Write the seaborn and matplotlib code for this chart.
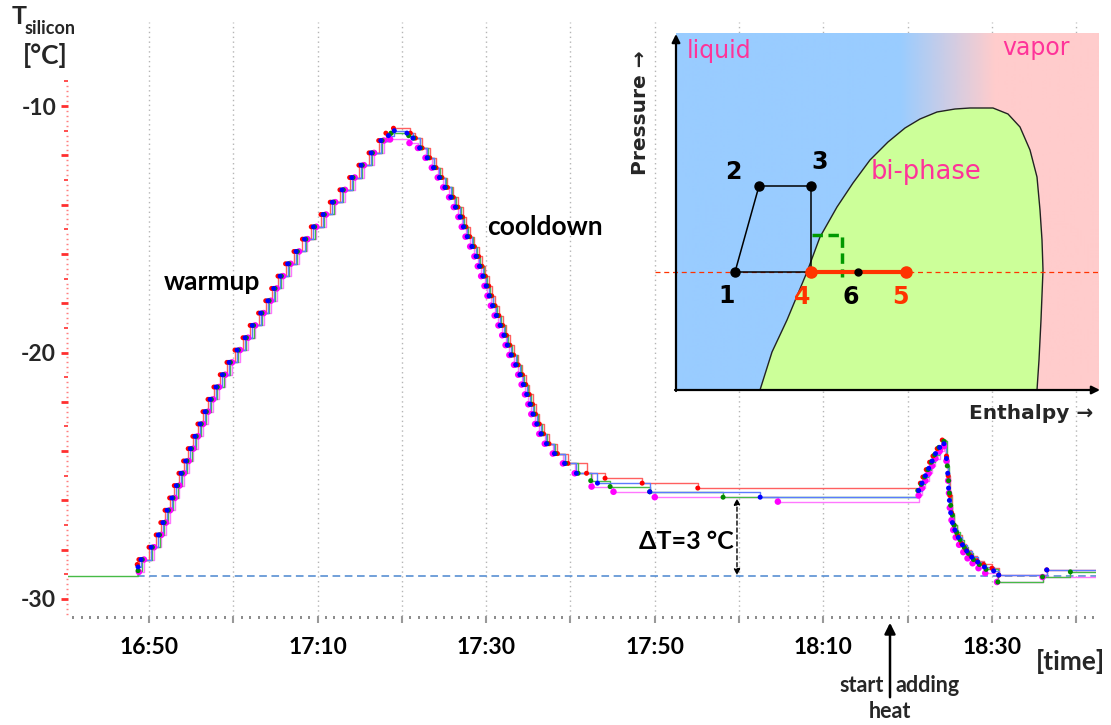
import numpy as np
import pandas as pd
import matplotlib
matplotlib.use("Agg")
import matplotlib.pyplot as plt
import seaborn as sns
from matplotlib.ticker import MultipleLocator, FixedLocator, FuncFormatter

# ---------------- data (time = minutes after 16:00, temperature in degC) ----------------
BASELINE_T = -29.07
PLATEAU_ARROW_TIME = 119.75
PLATEAU_T = -25.87

GREEN_START_TIME = [40.0]
GREEN_START = [-29.07]

# warm-up: logger writes a point each time the temperature has moved by one step
WARM_LEVELS = [-28.4, -27.9, -27.4, -26.9, -26.4, -25.9, -25.4, -24.9, -24.4, -23.9, -23.4, -22.9,
               -22.4, -21.9, -21.4, -20.9, -20.4, -19.9, -19.4, -18.9, -18.4, -17.9, -17.4, -16.9,
               -16.4, -15.9, -15.4, -14.9, -14.4, -13.9, -13.4, -12.9, -12.4, -11.9, -11.4]

RED_WARM_TIME = [48.6, 48.8, 50.0, 50.85, 51.4, 51.9, 52.45, 53.0, 53.55, 54.1, 54.65, 55.2, 55.8,
                 56.4, 57.0, 57.7, 58.45, 59.25, 60.2, 61.15, 62.0, 63.0, 63.85, 64.55, 65.3, 66.2,
                 67.2, 68.2, 69.25, 70.4, 71.5, 72.65, 73.8, 74.9, 76.1, 77.25, 78.1, 79.0]
RED_WARM = [-28.6] + WARM_LEVELS + [-11.1, -10.9]

BLUE_WARM_TIME = [48.7, 49.05, 50.25, 51.1, 51.65, 52.15, 52.7, 53.25, 53.8, 54.35, 54.9, 55.45,
                  56.05, 56.65, 57.25, 57.95, 58.7, 59.5, 60.45, 61.4, 62.25, 63.25, 64.1, 64.8,
                  65.55, 66.45, 67.45, 68.45, 69.5, 70.65, 71.75, 72.9, 74.05, 75.15, 76.35, 77.5,
                  78.4, 79.1]
BLUE_WARM = [-28.7] + WARM_LEVELS + [-11.2, -11.0]

GREEN_WARM_TIME = [48.7, 49.2, 50.4, 51.25, 51.8, 52.3, 52.85, 53.4, 53.95, 54.5, 55.05, 55.6,
                   56.2, 56.8, 57.4, 58.1, 58.85, 59.65, 60.6, 61.55, 62.4, 63.4, 64.25, 64.95,
                   65.7, 66.6, 67.6, 68.6, 69.65, 70.8, 71.9, 73.05, 74.2, 75.3, 76.5, 77.65, 78.7]
GREEN_WARM = [-28.85] + WARM_LEVELS + [-11.1]

MAGENTA_WARM_TIME = [48.8, 49.4, 50.6, 51.45, 52.0, 52.5, 53.05, 53.6, 54.15, 54.7, 55.25, 55.8,
                     56.4, 57.0, 57.6, 58.3, 59.05, 59.85, 60.8, 61.75, 62.6, 63.6, 64.45, 65.15,
                     65.9, 66.8, 67.8, 68.8, 69.85, 71.0, 72.1, 73.25, 74.4, 75.5, 76.7, 77.85, 78.6]
MAGENTA_WARM = [-28.9] + WARM_LEVELS + [-11.35]

COOL_LEVELS = [-11.3, -11.7, -12.1, -12.5, -12.9, -13.3, -13.7, -14.1, -14.5, -14.9, -15.3, -15.7,
               -16.1, -16.5, -16.9, -17.3, -17.7, -18.1, -18.5, -18.9, -19.3, -19.7, -20.1, -20.5,
               -20.9, -21.3, -21.7, -22.1, -22.5, -22.9, -23.3, -23.7, -24.1, -24.5, -24.9]

RED_COOL_TIME = [81.0, 81.6, 82.4, 83.3, 84.05, 84.75, 85.4, 86.1, 86.65, 87.2, 87.6, 88.05, 88.6,
                 89.1, 89.5, 89.9, 90.3, 90.65, 91.05, 91.5, 91.95, 92.4, 92.8, 93.25, 93.8, 94.3,
                 94.7, 95.1, 95.5, 95.85, 96.3, 96.8, 97.45, 98.45, 99.7, 101.9, 104.1, 108.5, 115.1]
RED_COOL = [-11.1] + COOL_LEVELS + [-25.1, -25.3, -25.5]

BLUE_COOL_TIME = [80.6, 81.3, 82.1, 83.0, 83.75, 84.45, 85.1, 85.8, 86.35, 86.9, 87.3, 87.75, 88.3,
                  88.8, 89.2, 89.6, 90.0, 90.35, 90.75, 91.2, 91.65, 92.1, 92.5, 92.95, 93.5, 94.0,
                  94.4, 94.8, 95.2, 95.55, 96.0, 96.5, 97.15, 98.1, 99.3, 100.7, 103.2, 109.4, 122.5]
BLUE_COOL = [-11.1] + COOL_LEVELS + [-25.3, -25.65, -25.87]

GREEN_COOL_TIME = [80.8, 81.4, 82.2, 83.1, 83.85, 84.55, 85.2, 85.9, 86.45, 87.0, 87.4, 87.85, 88.4,
                   88.9, 89.3, 89.7, 90.1, 90.45, 90.85, 91.3, 91.75, 92.2, 92.6, 93.05, 93.6, 94.1,
                   94.5, 94.9, 95.3, 95.65, 96.1, 96.6, 97.25, 98.2, 99.4, 100.9, 102.4, 104.7, 109.4,
                   118.1]
GREEN_COOL = [-11.2] + COOL_LEVELS + [-25.2, -25.44, -25.65, -25.87]

MAGENTA_COOL_TIME = [80.9, 81.9, 82.8, 83.55, 84.25, 84.9, 85.6, 86.15, 86.7, 87.1, 87.55, 88.1,
                     88.6, 89.0, 89.4, 89.8, 90.15, 90.55, 91.0, 91.45, 91.9, 92.3, 92.75, 93.3,
                     93.8, 94.2, 94.6, 95.0, 95.35, 95.8, 96.3, 96.95, 97.9, 99.1, 100.5, 102.5,
                     105.1, 110.0, 124.6]
MAGENTA_COOL = [-11.5] + COOL_LEVELS[1:] + [-25.44, -25.65, -25.87, -26.05]

RED_HEAT_TIME = [141.5, 141.8, 142.2, 142.6, 143.0, 143.5, 144.1, 144.6, 144.8, 145.0, 145.2, 145.5,
                 145.9, 146.4, 146.9, 147.5, 148.2, 149.0, 150.0, 150.8, 156.5]
RED_HEAT = [-25.3, -25.05, -24.75, -24.45, -24.2, -23.9, -23.55, -24.2, -25.0, -25.8, -26.5, -27.0,
            -27.4, -27.75, -28.0, -28.25, -28.45, -28.6, -28.75, -29.03, -28.82]
BLUE_HEAT_TIME = [141.3, 141.7, 142.1, 142.5, 142.9, 143.3, 143.8, 144.3, 144.6, 144.75, 144.85,
                  144.95, 145.1, 145.3, 145.6, 146.0, 146.5, 147.0, 147.6, 148.3, 149.1, 150.2,
                  150.8, 156.5]
BLUE_HEAT = [-25.6, -25.3, -25.0, -24.7, -24.4, -24.1, -23.85, -23.7, -24.3, -24.9, -25.5, -26.0,
             -26.5, -26.9, -27.2, -27.5, -27.8, -28.05, -28.3, -28.5, -28.7, -28.86, -29.03, -28.82]
GREEN_HEAT_TIME = [141.2, 141.6, 142.0, 142.4, 142.8, 143.2, 143.7, 144.3, 144.7, 144.85, 144.95,
                   145.1, 145.3, 145.5, 145.8, 146.2, 146.7, 147.2, 147.8, 148.5, 149.3, 150.7,
                   156.0, 159.3]
GREEN_HEAT = [-25.6, -25.35, -25.05, -24.75, -24.45, -24.15, -23.85, -23.6, -24.6, -25.2, -25.7,
              -26.2, -26.6, -27.0, -27.3, -27.6, -27.9, -28.15, -28.4, -28.6, -28.8, -29.31,
              -29.1, -28.9]
MAGENTA_HEAT_TIME = [141.3, 141.7, 142.1, 142.5, 142.9, 143.3, 143.8, 144.3, 144.6, 144.8, 144.9,
                     145.0, 145.2, 145.4, 145.7, 146.1, 146.6, 147.1, 147.7, 148.4, 149.2, 150.6,
                     156.0]
MAGENTA_HEAT = [-25.8, -25.5, -25.2, -24.9, -24.6, -24.3, -24.0, -23.8, -24.4, -25.2, -25.7, -26.3,
                -26.8, -27.2, -27.5, -27.8, -28.1, -28.35, -28.55, -28.75, -28.95, -29.31, -29.11]

END_TIME = 163.0

# inset schematic (pressure-enthalpy diagram), in picture pixel units
DOME_X = [760, 772, 787, 807, 820, 837, 853, 870, 888, 905, 920, 937, 955, 970, 993, 1008, 1020,
          1030, 1037, 1040, 1042, 1043, 1041, 1039, 1037]
DOME_Y = [390, 352, 320, 272, 237, 207, 183, 160, 142, 128, 119, 112, 109, 108, 108, 114, 127,
          150, 177, 210, 240, 270, 320, 360, 390]
CYCLE_X = [735, 759, 811, 811, 735]
CYCLE_Y = [272, 186, 186, 272, 272]
HEAT_LINE_X = [811, 906]
HEAT_LINE_Y = [272, 272]
GREEN_DASH_X = [812, 842, 842]
GREEN_DASH_Y = [235, 235, 277]
POINT_LABELS = ["1", "2", "3", "4", "6", "5"]
POINT_X = [735, 759, 811, 811, 858, 906]
POINT_Y = [272, 186, 186, 272, 272, 272]
LABEL_X = [727, 733, 820, 802, 851, 900]
LABEL_Y = [296, 172, 162, 297, 297, 297]
LABEL_COLORS = ["black", "black", "black", "#ff3300", "black", "#ff3300"]

# ---------------- style ----------------
sns.set_theme(style="white")
plt.rcParams["font.family"] = ["Lato", "DejaVu Sans"]
plt.rcParams["font.weight"] = "bold"

W, H = 1111, 725
fig = plt.figure(figsize=(W / 100, H / 100), dpi=100)
ax = fig.add_axes([68 / W, 1 - 616 / H, (1096 - 68) / W, (616 - 22) / H])


def build(*parts):
    t, v = [], []
    for tt, vv in parts:
        t += list(tt)
        v += list(vv)
    t.append(END_TIME)
    v.append(v[-1])
    return pd.DataFrame({"time": t, "temp": v})


series = [
    ("magenta", build((MAGENTA_WARM_TIME, MAGENTA_WARM), (MAGENTA_COOL_TIME, MAGENTA_COOL),
                      (MAGENTA_HEAT_TIME, MAGENTA_HEAT)), "#ff77ff", "#ff00ff", 22),
    ("red", build((RED_WARM_TIME, RED_WARM), (RED_COOL_TIME, RED_COOL), (RED_HEAT_TIME, RED_HEAT)),
     "#ff6060", "#ff0000", 13),
    ("green", build((GREEN_START_TIME, GREEN_START), (GREEN_WARM_TIME, GREEN_WARM),
                    (GREEN_COOL_TIME, GREEN_COOL), (GREEN_HEAT_TIME, GREEN_HEAT)),
     "#46bb46", "#008a00", 13),
    ("blue", build((BLUE_WARM_TIME, BLUE_WARM), (BLUE_COOL_TIME, BLUE_COOL),
                   (BLUE_HEAT_TIME, BLUE_HEAT)), "#5c7aff", "#0000ff", 13),
]

# baseline
ax.plot([RED_WARM_TIME[0], END_TIME], [BASELINE_T, BASELINE_T], ls=(0, (5, 3)), color="#4a86d0",
        lw=1.1, zorder=1)

for name, df, lcol, mcol, ms in series:
    sns.lineplot(data=df, x="time", y="temp", ax=ax, color=lcol, lw=1.0, drawstyle="steps-post",
                 estimator=None, sort=False, zorder=2)
    sns.scatterplot(data=df, x="time", y="temp", ax=ax, color=mcol, s=ms, edgecolor="none",
                    zorder=3)

ax.set_xlim(40.39, 162.34)
ax.set_ylim(-30.69, -6.59)
ax.set_xlabel("")
ax.set_ylabel("")
for sp in ax.spines.values():
    sp.set_visible(False)

# x axis ticks
ax.xaxis.set_major_locator(MultipleLocator(10))
ax.xaxis.set_minor_locator(MultipleLocator(1))


def fmt_time(v, pos):
    m = int(round(v))
    if (m - 50) % 20 != 0:
        return ""
    return f"{16 + m // 60}:{m % 60:02d}"


ax.xaxis.set_major_formatter(FuncFormatter(fmt_time))
ax.tick_params(axis="x", which="major", bottom=True, direction="out", length=5, width=1.5,
               color="#999999", labelsize=16.5, pad=10, labelcolor="black")
ax.tick_params(axis="x", which="minor", bottom=True, direction="out", length=2, width=1.2,
               color="#777777")
ax.grid(True, axis="x", which="major", ls=(0, (1, 2.5)), color="#b5b5b5", lw=1)
ax.grid(False, axis="y")

# y axis ticks (red)
ax.yaxis.set_major_locator(FixedLocator(np.arange(-30, -8.9, 1.0)))
ax.yaxis.set_minor_locator(FixedLocator(np.arange(-30.6, -8.9, 0.2)))
ax.yaxis.set_major_formatter(FuncFormatter(lambda v, p: f"{int(round(v))}" if round(v) % 10 == 0 else ""))
ax.tick_params(axis="y", which="major", left=True, direction="out", length=3, width=1.2,
               color="#ff3030", labelsize=16.5, pad=5.5)
ax.tick_params(axis="y", which="minor", left=True, direction="out", length=1.5, width=1,
               color="#ff8080")
fig.canvas.draw()
for tick in ax.yaxis.get_major_ticks():
    v = round(tick.get_loc())
    if v % 2 == 0:
        tick.tick1line.set_markersize(5)
        tick.tick1line.set_markeredgewidth(2)
for tick in ax.xaxis.get_major_ticks():
    v = int(round(tick.get_loc()))
    if (v - 50) % 20 == 0:
        tick.tick1line.set_color("black")

# annotations in main plot
ax.text(57.5, -17.14, "warmup", fontsize=19, ha="center", va="center", color="black")
ax.text(97.0, -14.91, "cooldown", fontsize=19, ha="center", va="center", color="black")
ax.text(113.8, -27.65, "\u0394T=3 \u00b0C", fontsize=18, ha="center", va="center", color="black")
ax.annotate("", xy=(PLATEAU_ARROW_TIME, PLATEAU_T - 0.05), xytext=(PLATEAU_ARROW_TIME, BASELINE_T + 0.03),
            arrowprops=dict(arrowstyle="<|-|>", ls=(0, (3, 2)), color="black", lw=1,
                            mutation_scale=9, shrinkA=0, shrinkB=0))


# figure texts
def fx(px):
    return px / W


def fy(py):
    return 1 - py / H


fig.text(fx(12), fy(16), "T", fontsize=18, ha="left", va="center")
fig.text(fx(25), fy(28), "silicon", fontsize=13, ha="left", va="center")
fig.text(fx(45), fy(56), "[\u00b0C]", fontsize=19, ha="center", va="center")
fig.text(fx(1070), fy(661), "[time]", fontsize=19, ha="center", va="center")
fig.text(fx(884), fy(685), "start", fontsize=15.5, ha="right", va="center")
fig.text(fx(896), fy(685), "adding", fontsize=15.5, ha="left", va="center")
fig.text(fx(890), fy(712), "heat", fontsize=15.5, ha="center", va="center")
fig.patches.append(matplotlib.patches.FancyArrowPatch(
    (fx(890), fy(700)), (fx(890), fy(620)), transform=fig.transFigure, arrowstyle="-|>",
    mutation_scale=16, lw=1.8, color="black"))
fig.text(fx(641), fy(113), "Pressure \u2192", fontsize=14.5, rotation=90, ha="center", va="center",
         family="DejaVu Sans")
fig.text(fx(1031), fy(413), "Enthalpy \u2192", fontsize=14.5, ha="center", va="center",
         family="DejaVu Sans")

# ---------------- inset ----------------
ins = fig.add_axes([676 / W, 1 - 390 / H, (1099 - 676) / W, (390 - 33) / H])
ins.set_xlim(676, 1099)
ins.set_ylim(390, 33)
ins.axis("off")

blue = np.array([153, 204, 255]) / 255
pink = np.array([255, 204, 204]) / 255
cols = np.linspace(676, 1099, 424)
t = np.clip((cols - 900) / 95, 0, 1)
grad = (blue[None, :] * (1 - t[:, None]) + pink[None, :] * t[:, None])[None, :, :]
ins.imshow(grad, extent=(676, 1099, 390, 33), aspect="auto", zorder=0)

ins.fill(DOME_X, DOME_Y, color="#ccff99", zorder=1, lw=0)
ins.plot(DOME_X, DOME_Y, color="#222222", lw=1.0, zorder=2)
ins.plot([655, 1099], [272, 272], color="#ff3300", lw=0.9, ls=(0, (4, 3)), zorder=2, clip_on=False)
ins.plot(CYCLE_X, CYCLE_Y, color="black", lw=1.1, zorder=3)
ins.plot(GREEN_DASH_X, GREEN_DASH_Y, color="#009900", lw=2.5, ls=(0, (3, 1.6)), zorder=3)
ins.plot(HEAT_LINE_X, HEAT_LINE_Y, color="#ff3300", lw=3, zorder=4)
for lab, x, y, lx, ly, c in zip(POINT_LABELS, POINT_X, POINT_Y, LABEL_X, LABEL_Y, LABEL_COLORS):
    size = 8 if c != "black" else (5 if lab == "6" else 6.5)
    ins.plot([x], [y], "o", color=c, ms=size, zorder=5)
    ins.text(lx, ly, lab, fontsize=17, color=c, ha="center", va="center", family="DejaVu Sans",
             zorder=6)
ins.text(687, 51, "liquid", fontsize=17, color="#ff3399", ha="left", va="center",
         family="DejaVu Sans", weight="normal")
ins.text(1036, 48, "vapor", fontsize=17, color="#ff3399", ha="center", va="center",
         family="DejaVu Sans", weight="normal")
ins.text(926, 172, "bi-phase", fontsize=18.5, color="#ff3399", ha="center", va="center",
         family="DejaVu Sans", weight="normal")
ins.annotate("", xy=(676, 34), xytext=(676, 391), annotation_clip=False,
             arrowprops=dict(arrowstyle="-|>", color="black", lw=1.6, mutation_scale=12,
                             shrinkA=0, shrinkB=0))
ins.annotate("", xy=(1100, 390), xytext=(675, 390), annotation_clip=False,
             arrowprops=dict(arrowstyle="-|>", color="black", lw=1.6, mutation_scale=12,
                             shrinkA=0, shrinkB=0))

fig.savefig("out.png", dpi=100)
